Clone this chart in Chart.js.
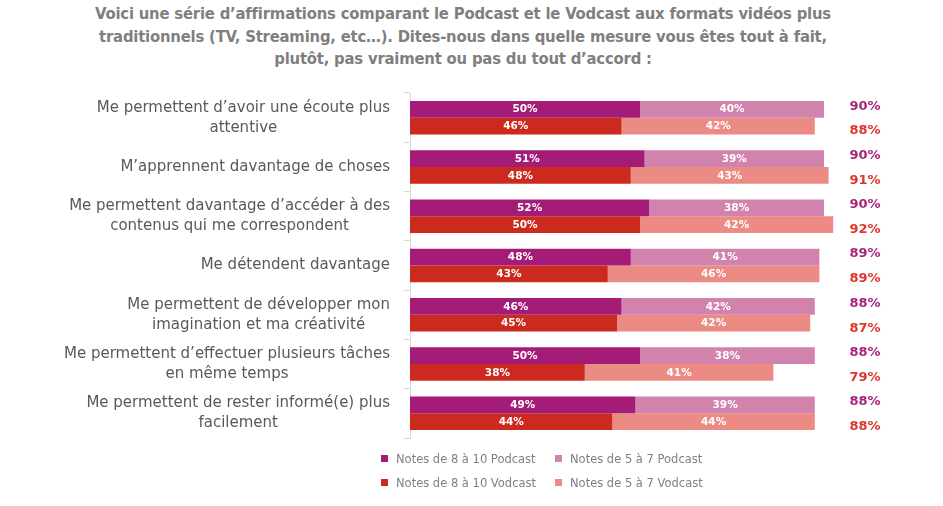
<!DOCTYPE html>
<html lang="fr">
<head>
<meta charset="utf-8">
<script src="https://cdn.jsdelivr.net/npm/chart.js@4"></script>
<style>
  html, body { margin: 0; padding: 0; background: #fff; }
  #wrap { position: relative; width: 943px; height: 506px; overflow: hidden; }
  #title {
    position: absolute; left: 0; top: 3px; width: 926px; text-align: center;
    font: bold 16.5px "DejaVu Sans Condensed", "DejaVu Sans", sans-serif;
    color: #7f7f7f; line-height: 22.5px; letter-spacing: -0.2px;
  }
  #legend { position: absolute; left: 381px; top: 451px; width: 400px; }
  .item {
    position: absolute; font: 11.5px "DejaVu Sans", sans-serif; color: #808080;
    white-space: nowrap; line-height: 16px;
  }
  .item i { display: inline-block; width: 7px; height: 7px; margin-right: 8px; vertical-align: 1px; }
  canvas { position: absolute; left: 0; top: 0; }
</style>
</head>
<body>
<div id="wrap">
  <div id="title">Voici une série d’affirmations comparant le Podcast et le Vodcast aux formats vidéos plus<br>traditionnels (TV, Streaming, etc…). Dites-nous dans quelle mesure vous êtes tout à fait,<br>plutôt, pas vraiment ou pas du tout d’accord :</div>
  <canvas id="chart" width="943" height="506"></canvas>
  <div id="legend"></div>
</div>
<script>
// Statements (category axis)
const categories = [
  ['Me permettent d’avoir une écoute plus', 'attentive'],
  ['M’apprennent davantage de choses'],
  ['Me permettent davantage d’accéder à des', 'contenus qui me correspondent'],
  ['Me détendent davantage'],
  ['Me permettent de développer mon', 'imagination et ma créativité'],
  ['Me permettent d’effectuer plusieurs tâches', 'en même temps'],
  ['Me permettent de rester informé(e) plus', 'facilement'],
];

// Shares of respondents, in %
const podcastHigh = [50, 51, 52, 48, 46, 50, 49];   // notes 8 to 10
const podcastMid  = [40, 39, 38, 41, 42, 38, 39];   // notes 5 to 7
const vodcastHigh = [46, 48, 50, 43, 45, 38, 44];
const vodcastMid  = [42, 43, 42, 46, 42, 41, 44];

const COLORS = {
  podcastHigh: '#a51c78',
  podcastMid: '#d283ad',
  vodcastHigh: '#cc2a1f',
  vodcastMid: '#ec8a84',
  podcastTotal: '#a8247f',
  vodcastTotal: '#e0352a',
};

const datasets = [
  { label: 'Notes de 8 à 10 Podcast', data: podcastHigh, backgroundColor: COLORS.podcastHigh, stack: 'podcast' },
  { label: 'Notes de 5 à 7 Podcast', data: podcastMid, backgroundColor: COLORS.podcastMid, stack: 'podcast' },
  { label: 'Notes de 8 à 10 Vodcast', data: vodcastHigh, backgroundColor: COLORS.vodcastHigh, stack: 'vodcast' },
  { label: 'Notes de 5 à 7 Vodcast', data: vodcastMid, backgroundColor: COLORS.vodcastMid, stack: 'vodcast' },
];

// Category labels: block right-aligned to the axis, lines centred inside it
const categoryLabels = {
  id: 'categoryLabels',
  afterDraw(chart) {
    const ctx = chart.ctx;
    const scale = chart.scales.y;
    const rightEdge = scale.right - 20;
    const lineH = 20;
    ctx.save();
    ctx.font = '15px "DejaVu Sans", sans-serif';
    ctx.fillStyle = '#595959';
    ctx.textAlign = 'center';
    ctx.textBaseline = 'middle';
    chart.data.labels.forEach((lines, i) => {
      const y = scale.getPixelForValue(i);
      const maxW = Math.max(...lines.map(l => ctx.measureText(l).width));
      const cx = rightEdge - maxW / 2;
      const y0 = y - (lines.length - 1) * lineH / 2;
      lines.forEach((l, k) => ctx.fillText(l, cx, y0 + k * lineH));
    });
    ctx.restore();
  },
};

// White % labels centred in each segment
const segmentLabels = {
  id: 'segmentLabels',
  afterDatasetsDraw(chart) {
    const ctx = chart.ctx;
    ctx.save();
    ctx.font = 'bold 10.5px "DejaVu Sans", sans-serif';
    ctx.fillStyle = '#fff';
    ctx.textAlign = 'center';
    ctx.textBaseline = 'middle';
    chart.data.datasets.forEach((ds, i) => {
      chart.getDatasetMeta(i).data.forEach((bar, j) => {
        ctx.fillText(ds.data[j] + '%', (bar.x + bar.base) / 2, bar.y + 0.5);
      });
    });
    ctx.restore();
  },
};

// Totals in the right-hand column
const totalLabels = {
  id: 'totalLabels',
  afterDatasetsDraw(chart) {
    const ctx = chart.ctx;
    const x = chart.chartArea.right - 5;
    ctx.save();
    ctx.font = '600 13px "DejaVu Sans", sans-serif';
    ctx.textAlign = 'center';
    ctx.textBaseline = 'middle';
    const groups = [
      { meta: chart.getDatasetMeta(1), a: podcastHigh, b: podcastMid, color: COLORS.podcastTotal, dy: -3 },
      { meta: chart.getDatasetMeta(3), a: vodcastHigh, b: vodcastMid, color: COLORS.vodcastTotal, dy: 5 },
    ];
    groups.forEach(g => {
      ctx.fillStyle = g.color;
      g.meta.data.forEach((bar, j) => {
        ctx.fillText((g.a[j] + g.b[j]) + '%', x, bar.y + g.dy);
      });
    });
    ctx.restore();
  },
};

new Chart(document.getElementById('chart'), {
  type: 'bar',
  data: { labels: categories, datasets },
  options: {
    indexAxis: 'y',
    responsive: false,
    animation: false,
    layout: { padding: { top: 93, bottom: 68, left: 0, right: 73 } },
    datasets: { bar: { categoryPercentage: 0.68, barPercentage: 1.0 } },
    scales: {
      x: { stacked: true, min: 0, max: 100, display: false },
      y: {
        stacked: true,
        afterFit: (scale) => { scale.width = 410; },
        grid: { offset: true, drawOnChartArea: false, tickLength: 6, color: '#d9d9d9' },
        border: { display: true, color: '#d9d9d9' },
        ticks: { display: false },
      },
    },
    plugins: {
      legend: { display: false },
      tooltip: { enabled: false },
    },
  },
  plugins: [categoryLabels, segmentLabels, totalLabels],
});

// 2 x 2 legend under the plot
const legendEl = document.getElementById('legend');
datasets.forEach((ds, i) => {
  const item = document.createElement('div');
  item.className = 'item';
  item.style.left = (i % 2) * 174 + 'px';
  item.style.top = Math.floor(i / 2) * 24 + 'px';
  item.innerHTML = '<i style="background:' + ds.backgroundColor + '"></i>' + ds.label;
  legendEl.appendChild(item);
});
</script>
</body>
</html>
